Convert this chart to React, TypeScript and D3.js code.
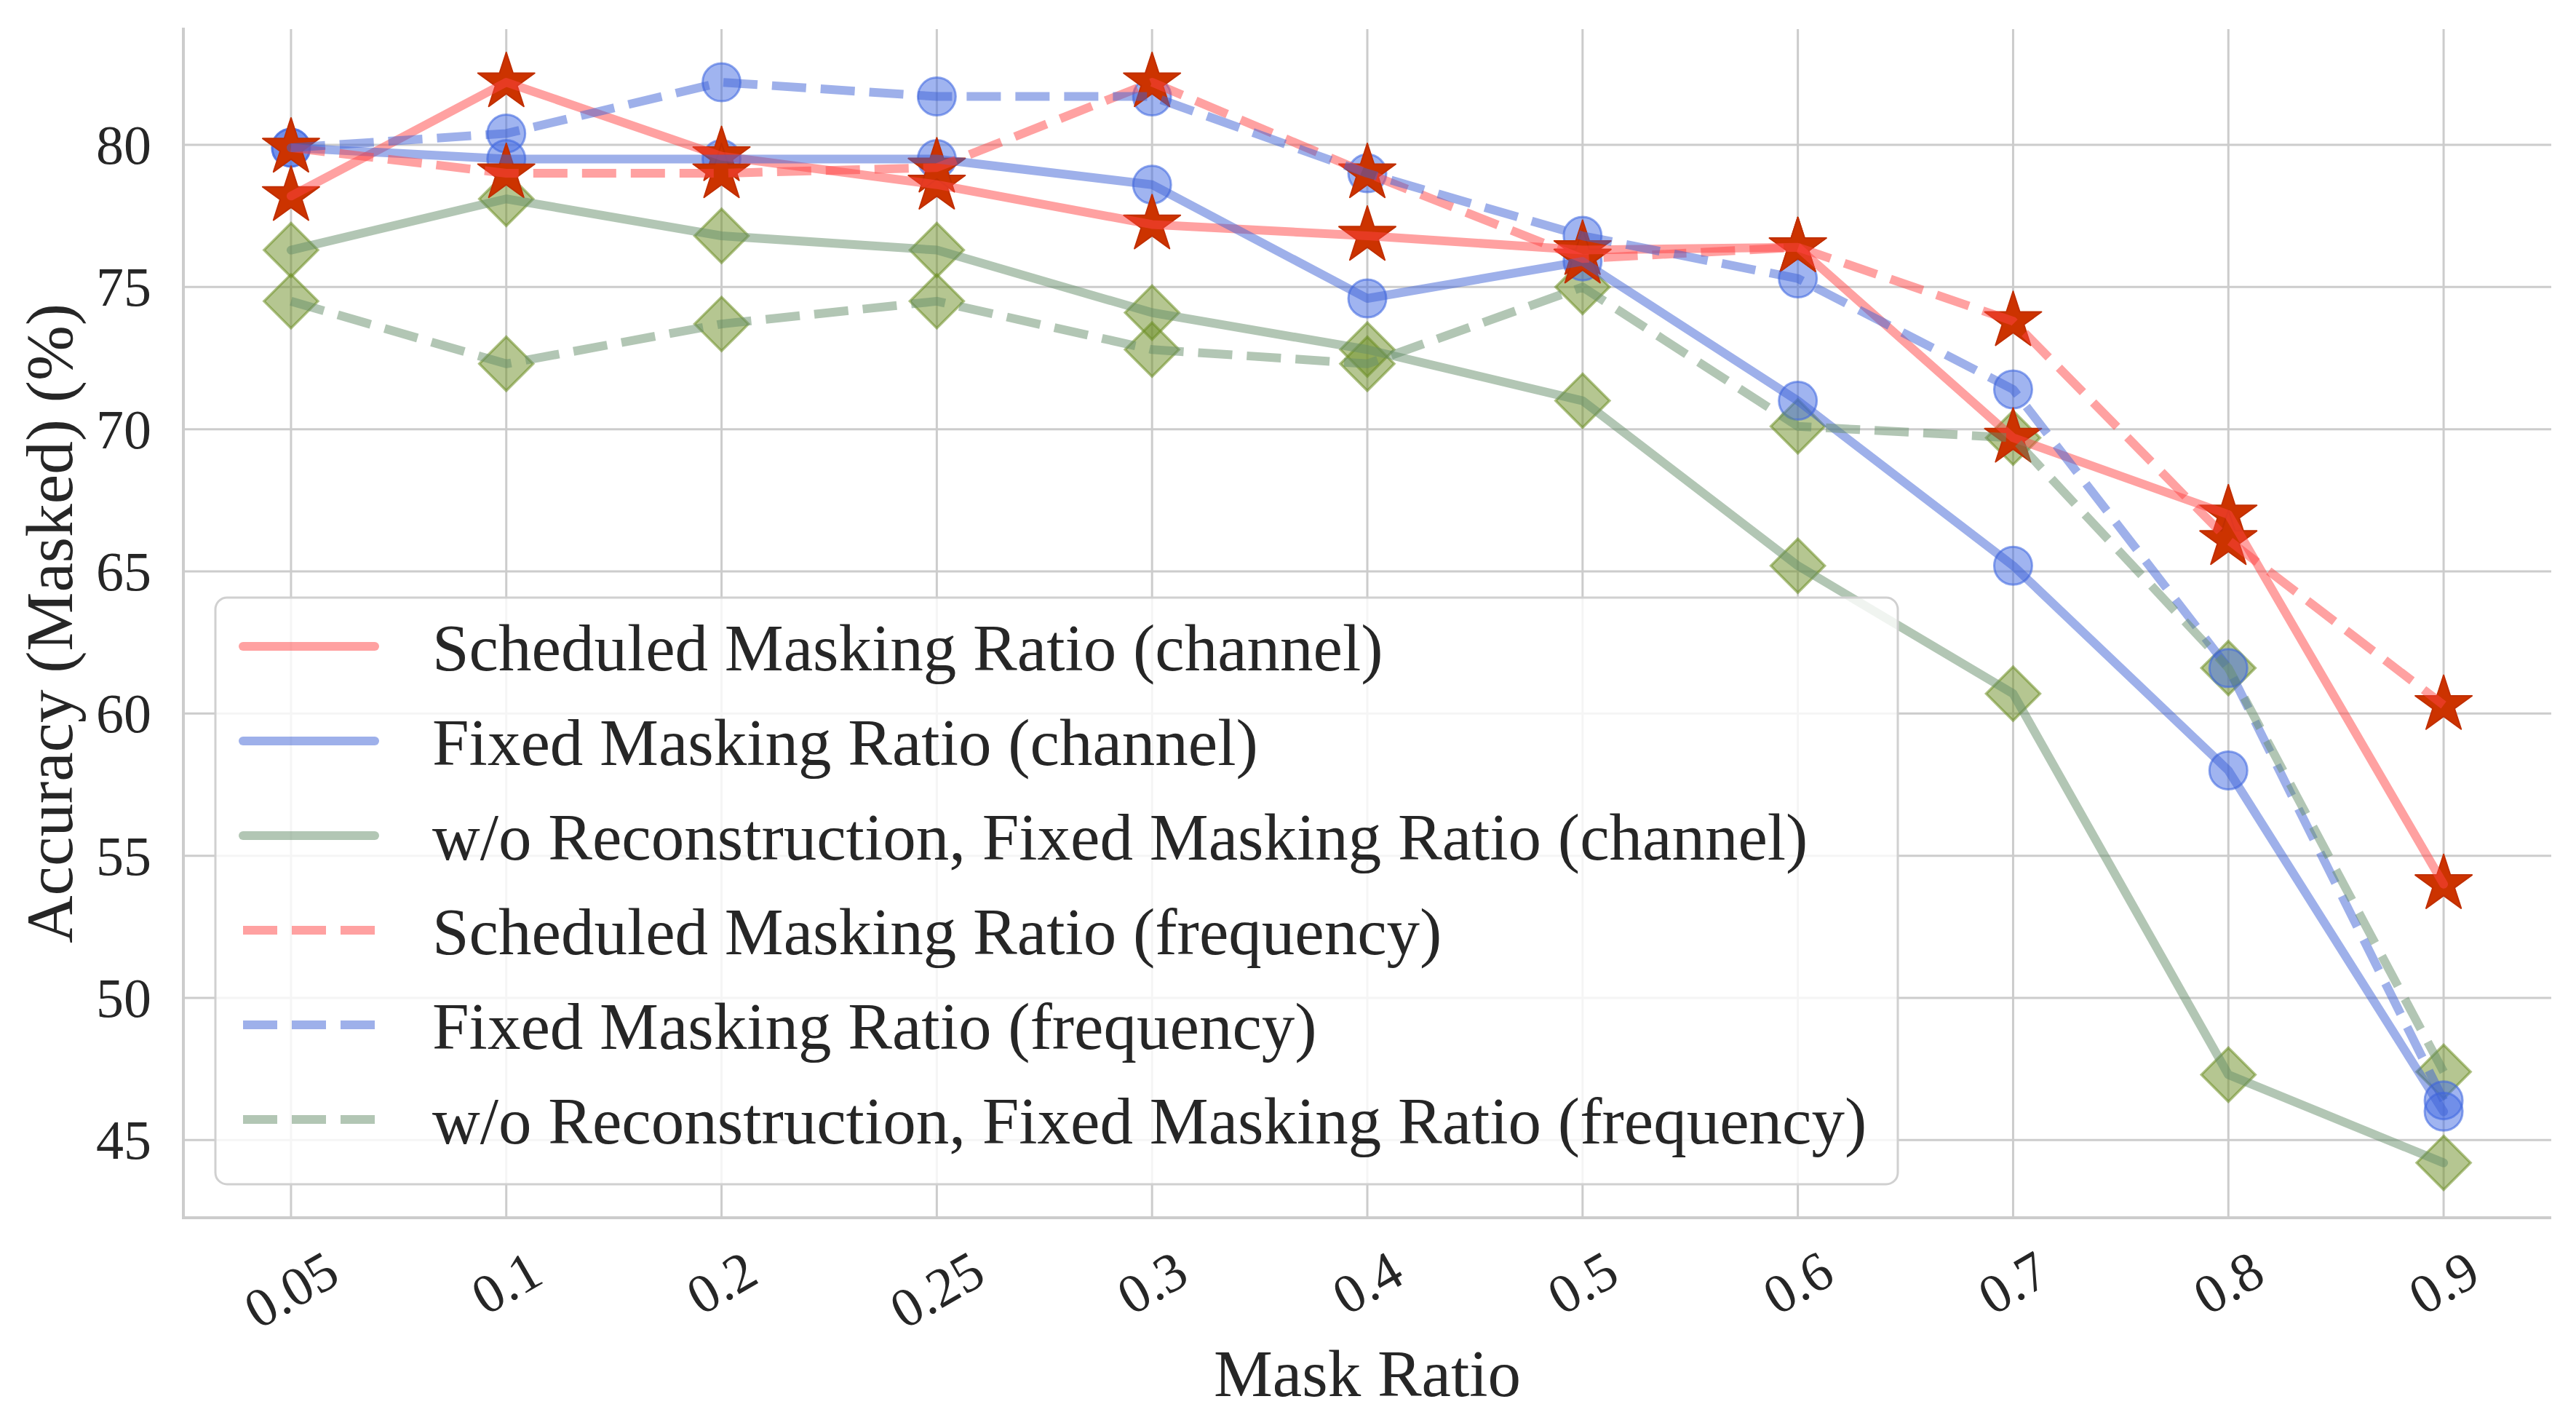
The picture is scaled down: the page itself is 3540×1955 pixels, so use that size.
import * as d3 from "d3";

// values
const ratios = ["0.05", "0.1", "0.2", "0.25", "0.3", "0.4", "0.5", "0.6", "0.7", "0.8", "0.9"];
const schedChannel = [78.2, 82.2, 79.6, 78.6, 77.2, 76.8, 76.3, 76.4, 69.7, 67.0, 54.0];
const fixedChannel = [79.9, 79.5, 79.5, 79.5, 78.6, 74.6, 75.9, 71.0, 65.2, 58.0, 46.0];
const noReconChannel = [76.3, 78.1, 76.8, 76.3, 74.1, 72.8, 71.0, 65.2, 60.7, 47.3, 44.2];
const schedFreq = [79.9, 79.0, 79.0, 79.2, 82.2, 79.0, 76.0, 76.4, 73.8, 66.1, 60.3];
const fixedFreq = [79.9, 80.4, 82.2, 81.7, 81.7, 79.0, 76.8, 75.3, 71.4, 61.6, 46.4];
const noReconFreq = [74.5, 72.3, 73.7, 74.5, 72.8, 72.3, 75.0, 70.1, 69.7, 61.6, 47.4];
const yTicks = [45, 50, 55, 60, 65, 70, 75, 80];

type Marker = "star" | "circle" | "diamond";
type Series = { name: string; values: number[]; color: string; dashed: boolean; marker: Marker };

const series: Series[] = [
  { name: "Scheduled Masking Ratio (channel)", values: schedChannel, color: "#ff4444", dashed: false, marker: "star" },
  { name: "Fixed Masking Ratio (channel)", values: fixedChannel, color: "#3d61d5", dashed: false, marker: "circle" },
  { name: "w/o Reconstruction, Fixed Masking Ratio (channel)", values: noReconChannel, color: "#658d69", dashed: false, marker: "diamond" },
  { name: "Scheduled Masking Ratio (frequency)", values: schedFreq, color: "#ff4444", dashed: true, marker: "star" },
  { name: "Fixed Masking Ratio (frequency)", values: fixedFreq, color: "#3d61d5", dashed: true, marker: "circle" },
  { name: "w/o Reconstruction, Fixed Masking Ratio (frequency)", values: noReconFreq, color: "#658d69", dashed: true, marker: "diamond" },
];

const W = 3540;
const H = 1955;
const left = 252;
const right = 3506;
const top = 40;
const bottom = 1673;
const font = "'Times New Roman', 'Liberation Serif', serif";
const textColor = "#262626";
const gridColor = "#cccccc";
const lineWidth = 12;
const dash = "47 20";

const x = d3.scalePoint<string>().domain(ratios).range([left, right]).padding(0.5);
const y = d3.scaleLinear().domain([42.27, 84.07]).range([bottom, top]);

const starPath = d3.symbol().type(d3.symbolStar).size(1887)()!;
const diamondR = 37;
const diamondPath = `M0,${-diamondR}L${diamondR},0L0,${diamondR}L${-diamondR},0Z`;

const lineGen = d3
  .line<number>()
  .x((_, i) => x(ratios[i])!)
  .y((d) => y(d));

const markerOrder: Marker[] = ["diamond", "circle", "star"];

const drawMarker = (m: Marker, cx: number, cy: number, key: string) => {
  if (m === "star") {
    return (
      <path key={key} d={starPath} transform={`translate(${cx},${cy})`} fill="#cc3300" stroke="#c02e00" strokeWidth={2} strokeLinejoin="round" />
    );
  }
  if (m === "circle") {
    return (
      <circle key={key} cx={cx} cy={cy} r={26} fill="#4169e1" fillOpacity={0.5} stroke="#4169e1" strokeOpacity={0.6} strokeWidth={3} />
    );
  }
  return (
    <path key={key} d={diamondPath} transform={`translate(${cx},${cy})`} fill="#6b8e23" fillOpacity={0.5} stroke="#6b8e23" strokeOpacity={0.55} strokeWidth={3.5} />
  );
};

const legendX = 296;
const legendY = 821;
const legendW = 2312;
const legendH = 806;
const legendRow0 = 888;
const legendStep = 130;
const fsLabel = 91;
const fsTick = 76;

const App = () => {
  return (
    <svg
      width={W}
      height={H}
      viewBox={`0 0 ${W} ${H}`}
      style={{ position: "absolute", left: 0, top: 0, background: "#fff" }}
      fontFamily={font}
    >
      <rect width={W} height={H} fill="#fff" />
      {/* grid */}
      {yTicks.map((t) => (
        <line key={"gy" + t} x1={left} x2={right} y1={y(t)} y2={y(t)} stroke={gridColor} strokeWidth={3} />
      ))}
      {ratios.map((r) => (
        <line key={"gx" + r} x1={x(r)} x2={x(r)} y1={top} y2={bottom} stroke={gridColor} strokeWidth={3} />
      ))}
      {/* spines */}
      <line x1={left} x2={left} y1={top - 2} y2={bottom + 2} stroke={gridColor} strokeWidth={4} />
      <line x1={left - 2} x2={right} y1={bottom} y2={bottom} stroke={gridColor} strokeWidth={4} />

      {/* markers under the lines */}
      {markerOrder.map((m) =>
        series
          .filter((s) => s.marker === m)
          .map((s, si) => s.values.map((v, i) => drawMarker(m, x(ratios[i])!, y(v), `${m}-${si}-${i}`)))
      )}
      {series.map((s, si) => (
        <path
          key={"line" + si}
          d={lineGen(s.values)!}
          fill="none"
          stroke={s.color}
          strokeOpacity={0.5}
          strokeWidth={lineWidth}
          strokeDasharray={s.dashed ? dash : undefined}
          strokeLinecap={s.dashed ? "butt" : "round"}
          strokeLinejoin="round"
        />
      ))}

      {/* y ticks */}
      {yTicks.map((t) => (
        <text key={"ty" + t} x={208} y={y(t) + fsTick * 0.34} textAnchor="end" fontSize={fsTick} fill={textColor}>
          {t}
        </text>
      ))}
      {/* x ticks */}
      {ratios.map((r) => {
        const w = fsTick * (0.5 * (r.length - 1) + 0.25);
        const half = (w * 0.5 + fsTick * 0.68 * 0.866) / 2;
        return (
          <g key={"tx" + r} transform={`translate(${x(r)},${1716 + half}) rotate(-30)`}>
            <text x={0} y={fsTick * 0.34} textAnchor="middle" fontSize={fsTick} fill={textColor}>
              {r}
            </text>
          </g>
        );
      })}
      {/* axis labels */}
      <text x={(left + right) / 2} y={1918} textAnchor="middle" fontSize={fsLabel} fill={textColor}>
        Mask Ratio
      </text>
      <text transform={`translate(99,${(top + bottom) / 2}) rotate(-90)`} textAnchor="middle" fontSize={fsLabel} fill={textColor}>
        Accuracy (Masked) (%)
      </text>

      {/* legend */}
      <rect x={legendX} y={legendY} width={legendW} height={legendH} rx={16} ry={16} fill="#fff" fillOpacity={0.8} stroke="#d0d0d0" strokeWidth={3} />
      {series.map((s, i) => {
        const cy = legendRow0 + i * legendStep;
        return (
          <g key={"lg" + i}>
            <line
              x1={334}
              x2={515}
              y1={cy}
              y2={cy}
              stroke={s.color}
              strokeOpacity={0.5}
              strokeWidth={lineWidth}
              strokeDasharray={s.dashed ? dash : undefined}
              strokeLinecap={s.dashed ? "butt" : "round"}
            />
            <text x={594} y={cy + 33} fontSize={fsLabel} fill={textColor}>
              {s.name}
            </text>
          </g>
        );
      })}
    </svg>
  );
};

export default App;
